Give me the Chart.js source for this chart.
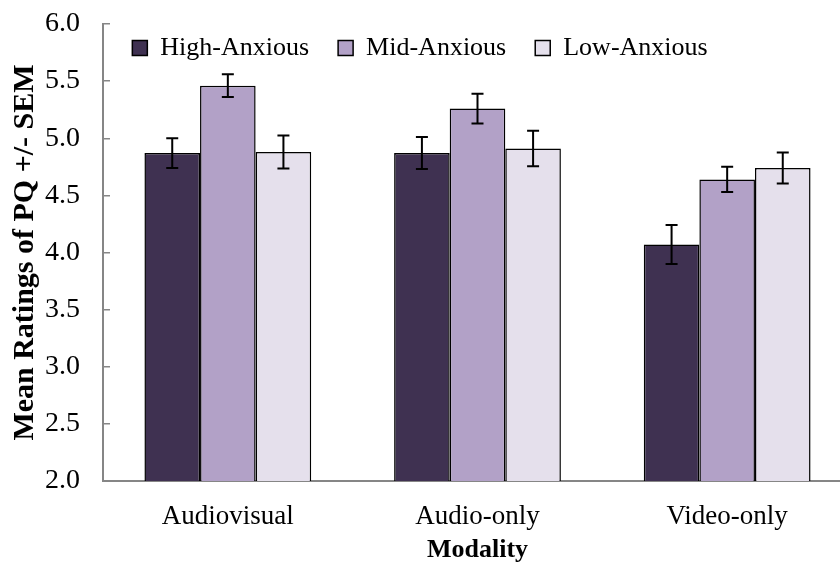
<!DOCTYPE html>
<html>
<head>
<meta charset="utf-8">
<script src="https://cdn.jsdelivr.net/npm/chart.js@4/dist/chart.umd.min.js"></script>
<style>
  html, body { margin: 0; padding: 0; background: #fff; overflow: hidden; }
  #wrap { width: 860px; height: 563px; position: relative; }
</style>
</head>
<body>
<div id="wrap"><canvas id="c"></canvas></div>
<script>
const categories = ['Audiovisual', 'Audio-only', 'Video-only'];
const seriesNames = ['High-Anxious', 'Mid-Anxious', 'Low-Anxious'];
const highAnxious = [4.87, 4.87, 4.07];
const midAnxious  = [5.46, 5.26, 4.64];
const lowAnxious  = [4.88, 4.91, 4.74];
const highSem = [0.13, 0.14, 0.17];
const midSem  = [0.10, 0.13, 0.11];
const lowSem  = [0.145, 0.155, 0.135];
const yTicks = [2.0, 2.5, 3.0, 3.5, 4.0, 4.5, 5.0, 5.5, 6.0];

const colors = ['#3F3151', '#B2A1C7', '#E5E0EC'];
const semList = [highSem, midSem, lowSem];
const serif = "'Liberation Serif', 'Times New Roman', serif";

const errorBars = {
  id: 'errorBars',
  afterDatasetsDraw(chart) {
    const ctx = chart.ctx;
    const y = chart.scales.y;
    ctx.save();
    ctx.strokeStyle = '#000';
    ctx.lineWidth = 2;
    chart.data.datasets.forEach((ds, di) => {
      const meta = chart.getDatasetMeta(di);
      meta.data.forEach((bar, i) => {
        const v = ds.data[i], e = semList[di][i];
        const x = bar.x;
        const yt = y.getPixelForValue(v + e), yb = y.getPixelForValue(v - e);
        const hw = 6;
        ctx.beginPath();
        ctx.moveTo(x, yt); ctx.lineTo(x, yb);
        ctx.moveTo(x - hw, yt); ctx.lineTo(x + hw, yt);
        ctx.moveTo(x - hw, yb); ctx.lineTo(x + hw, yb);
        ctx.stroke();
      });
    });
    ctx.restore();
  }
};

const legendShift = {
  id: 'legendShift',
  beforeInit(chart) {
    const lg = chart.legend;
    const fit = lg.fit;
    lg.fit = function () { fit.call(this); this._realHeight = this.height; this.height = 0; };
  },
  afterLayout(chart) {
    const lg = chart.legend;
    const dx = -6, dy = -18;
    lg.left += dx; lg.right += dx;
    lg.top += dy;
    lg.height = lg._realHeight || 60;
    lg.bottom = lg.top + lg.height;
  }
};

new Chart(document.getElementById('c'), {
  type: 'bar',
  data: {
    labels: categories,
    datasets: [
      { label: seriesNames[0], data: highAnxious, backgroundColor: colors[0] },
      { label: seriesNames[1], data: midAnxious, backgroundColor: colors[1] },
      { label: seriesNames[2], data: lowAnxious, backgroundColor: colors[2] }
    ].map(d => Object.assign(d, { borderColor: '#000', borderWidth: 1.5, categoryPercentage: 0.668, barPercentage: 1.0 }))
  },
  options: {
    responsive: true,
    maintainAspectRatio: false,
    animation: false,
    layout: { padding: { top: 24, right: 8, left: 0, bottom: 0 } },
    plugins: {
      tooltip: { enabled: false },
      legend: {
        display: true,
        position: 'top',
        labels: {
          color: '#000',
          font: { family: serif, size: 26 },
          boxWidth: 15, boxHeight: 15,
          padding: 29
        }
      }
    },
    scales: {
      x: {
        grid: { display: false, drawTicks: false },
        border: { display: true, color: '#868686', width: 2 },
        ticks: { color: '#000', font: { family: serif, size: 27 }, padding: 20, maxRotation: 0 },
        title: { display: true, text: 'Modality', color: '#000', font: { family: serif, size: 26, weight: 'bold', lineHeight: 1 }, padding: { top: 0, bottom: 0 } },
        afterFit(s) { s.height = 82; }
      },
      y: {
        min: 2, max: 6,
        afterBuildTicks(s) { s.ticks = yTicks.map(v => ({ value: v })); },
        grid: { drawOnChartArea: false, drawTicks: true, tickLength: -7, color: '#868686', lineWidth: 1.5 },
        border: { display: true, color: '#868686', width: 2 },
        ticks: { color: '#000', font: { family: serif, size: 28 }, padding: 30, callback: v => Number(v).toFixed(1) },
        title: { display: true, text: 'Mean Ratings of PQ +/- SEM', color: '#000', font: { family: serif, size: 30, weight: 'bold', lineHeight: 1 }, padding: { top: 10, bottom: 0 } },
        afterFit(s) { s.width = 103; s.paddingTop = 0; s.paddingBottom = 0; }
      }
    }
  },
  plugins: [errorBars, legendShift]
});
</script>
</body>
</html>
